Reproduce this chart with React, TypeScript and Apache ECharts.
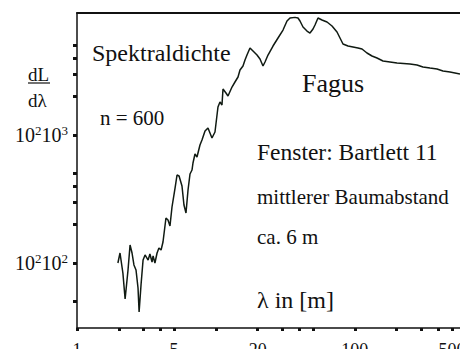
import React, { useEffect, useRef } from 'react';
import * as echarts from 'echarts';

// wavelength λ in m (x) and spectral density dL/dλ (y)
const wavelength = [
  1.97, 2.04, 2.14, 2.22, 2.33, 2.41, 2.49, 2.57, 2.66, 2.75,
  2.80, 2.89, 2.99, 3.09, 3.25, 3.35, 3.47, 3.53, 3.64, 3.77,
  3.89, 4.03, 4.16, 4.37, 4.52, 4.67, 4.83, 5.08, 5.25, 5.43,
  5.70, 5.89, 6.09, 6.30, 6.51, 6.73, 6.84, 7.07, 7.31, 7.68,
  7.94, 8.35, 8.77, 9.37, 9.85, 10.35, 10.7, 11.06, 11.25, 11.82,
  12.22, 13.06, 13.72, 14.43, 14.91, 15.67, 16.2, 16.74, 17.6, 18.5,
  19.77, 20.77, 21.83, 22.57, 23.72, 25.77, 28.0, 30.42, 32.5, 34.16,
  37.11, 39.0, 40.32, 42.38, 45.28, 47.59, 50.02, 51.7, 54.34, 58.05,
  63.08, 68.54, 74.46, 78.25, 82.22, 89.34, 97.05, 105.4, 112.7, 122.4,
  133.0, 144.5, 159.6, 179.2, 201.3, 249.7, 280.4, 309.7, 347.8, 390.7,
  431.5, 484.6, 572,
];
const density = [
  100, 119.7, 83.5, 52.3, 88.2, 138.2, 119.7, 96.5, 88.2, 63.8,
  41.4, 67.3, 105.5, 115.5, 105.5, 117.6, 101.8, 113.4, 100, 119.7,
  131, 126.3, 145.9, 224.7, 216.8, 194.6, 273.8, 385.3, 486.9, 478.3,
  399.5, 283.9, 245.8, 371.7, 495.7, 532.9, 604.2, 710.6, 673.2, 835.3,
  914.1, 1075, 1134, 947.5, 1055, 1655, 1810, 1715, 2288, 2129,
  2017, 2371, 2595, 2839, 3219, 3459, 3855, 4217, 4783, 4532,
  4217, 3925, 3459, 3718, 4217, 4958, 5725, 6611, 7772, 8206,
  8300, 8206, 7772, 6980, 6494, 6266, 6733, 7235, 8206, 7913,
  7634, 7107, 6379, 5725, 5141, 4958, 4870, 4783, 4698, 4372,
  4142, 3995, 3785, 3718, 3652, 3587, 3524, 3399, 3338, 3279,
  3162, 3106, 2996,
];

// axis ranges and ticks
const xRange = [1, 572];
const yRange = [31.05, 8980];
const xTickValues = [1, 2, 3, 4, 5, 10, 20, 30, 40, 50, 100, 200, 300, 400, 500];
const xLabelValues = [1, 5, 20, 100, 500];
const yTickValues = [50, 100, 200, 300, 400, 500, 1000, 2000, 3000, 4000, 5000];
const yLabelValues = [100, 1000];
const yLabelTexts = ['{n|10}{s|2}{n|10}{s|2}', '{n|10}{s|2}{n|10}{s|3}'];

const FONT = 'Liberation Serif';
const INK = '#111';

export default function App() {
  const ref = useRef<HTMLDivElement>(null);

  useEffect(() => {
    if (!ref.current) return;
    const chart = echarts.init(ref.current, undefined, { renderer: 'svg' });
    const lg = (v: number) => Math.log10(v);
    const points = wavelength.map((w, i) => [lg(w), lg(density[i])]);

    const text = (t: string, x: number, y: number, size: number) => ({
      type: 'text',
      x,
      y,
      silent: true,
      style: {
        text: t,
        font: `${size}px "Liberation Serif"`,
        fill: INK,
        verticalAlign: 'middle',
      },
    });

    chart.setOption({
      animation: false,
      backgroundColor: '#fff',
      grid: { left: 77, top: 13, right: 0, bottom: 21, outerBoundsMode: 'none', containLabel: false },
      xAxis: [
        {
          type: 'value',
          min: lg(xRange[0]),
          max: lg(xRange[1]),
          splitLine: { show: false },
          axisLine: { show: true, lineStyle: { color: INK, width: 1.5 } },
          axisTick: {
            show: true,
            customValues: xTickValues.map(lg),
            length: 3,
            lineStyle: { color: INK, width: 3 },
          },
          axisLabel: {
            customValues: xLabelValues.map(lg),
            formatter: (v: number) => String(Math.round(Math.pow(10, v))),
            fontFamily: FONT,
            fontSize: 18,
            color: INK,
            margin: 13,
            hideOverlap: false,
          },
        },
        {
          type: 'value',
          position: 'top',
          min: lg(xRange[0]),
          max: lg(xRange[1]),
          splitLine: { show: false },
          axisLine: { show: true, lineStyle: { color: INK, width: 2 } },
          axisTick: { show: false },
          axisLabel: { show: false },
        },
      ],
      yAxis: {
        type: 'value',
        min: lg(yRange[0]),
        max: lg(yRange[1]),
        splitLine: { show: false },
        axisLine: { show: true, lineStyle: { color: INK, width: 1.5 } },
        axisTick: {
          show: true,
          customValues: yTickValues.map(lg),
          length: 4,
          lineStyle: { color: INK, width: 3 },
        },
        axisLabel: {
          customValues: yLabelValues.map(lg),
          formatter: (v: number) => {
            const idx = yLabelValues.findIndex((y) => Math.abs(lg(y) - v) < 1e-6);
            return idx >= 0 ? yLabelTexts[idx] : '';
          },
          margin: 9,
          color: INK,
          fontFamily: FONT,
          rich: {
            n: { fontFamily: FONT, fontSize: 20, lineHeight: 22, color: INK },
            s: { fontFamily: FONT, fontSize: 13, lineHeight: 13, verticalAlign: 'top', color: INK },
          },
        },
      },
      series: [
        {
          type: 'line',
          data: points,
          showSymbol: false,
          symbol: 'none',
          clip: true,
          lineStyle: { color: '#101a12', width: 1.5 },
        },
      ],
      graphic: [
        text('Spektraldichte', 92, 53, 24),
        text('n = 600', 100, 118, 21),
        text('Fagus', 302, 83, 26),
        text('Fenster: Bartlett 11', 257, 152, 23.5),
        text('mittlerer Baumabstand', 257, 197, 21),
        text('ca. 6 m', 257, 237, 21),
        text('λ in [m]', 257, 300, 24),
        text('dL', 28, 74, 19),
        {
          type: 'line',
          silent: true,
          shape: { x1: 28, y1: 83, x2: 50, y2: 83 },
          style: { stroke: INK, lineWidth: 1.2 },
        },
        text('dλ', 28, 100, 19),
      ],
    });

    return () => chart.dispose();
  }, []);

  return (
    <div
      ref={ref}
      style={{ position: 'fixed', left: 0, top: 0, width: 460, height: 349, background: '#fff' }}
    />
  );
}
